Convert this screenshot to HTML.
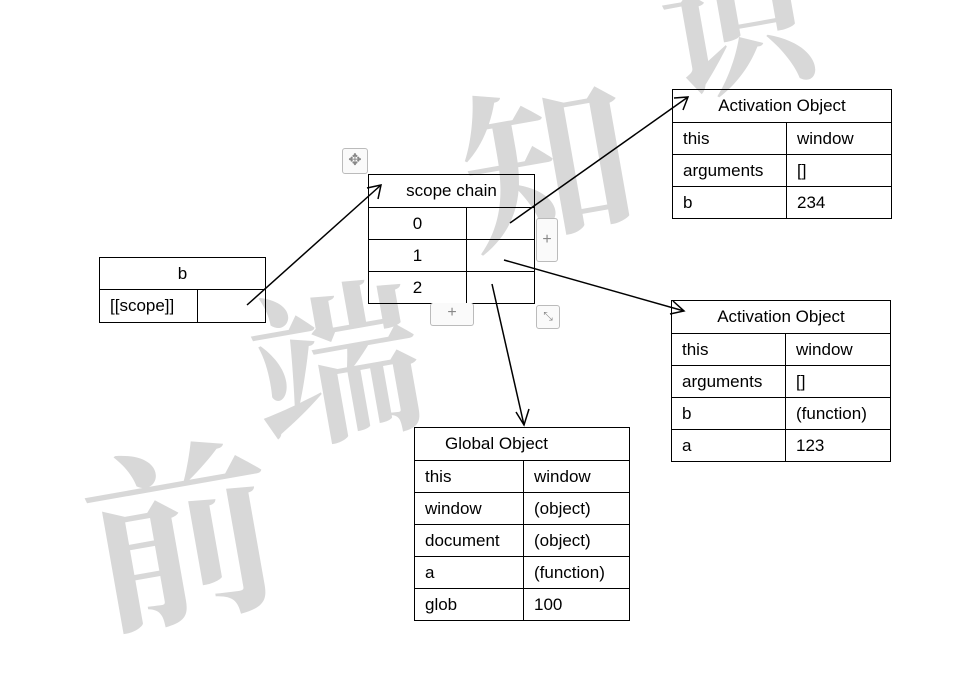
<!DOCTYPE html>
<html><head><meta charset="utf-8"><style>
body{margin:0;width:980px;height:652px;background:#fff;position:relative;overflow:hidden;font-family:"Liberation Sans",sans-serif;font-size:17px;color:#000}
.wm{position:absolute;color:#d8d8d8;font-family:"Noto Serif CJK SC","WenQuanYi Zen Hei",serif;font-weight:700;line-height:1}
.t{position:absolute;border-collapse:collapse;background:transparent}
.t td{border:1px solid #000;padding:0 0 0 10px;height:31px;box-sizing:border-box;white-space:nowrap}
.t td.h{text-align:center;padding:0}
.c td{text-align:center;padding:0}
.btn{position:absolute;border:1px solid #bbb;border-radius:3px;background:#fafafa;color:#888;text-align:center;font-size:16px;line-height:20px}
</style></head><body>
<div class="wm" style="left:85px;top:430px;font-size:190px;transform:rotate(-10deg)">前</div>
<div class="wm" style="left:250px;top:270px;font-size:170px;transform:rotate(-10deg)">端</div>
<div class="wm" style="left:460px;top:70px;font-size:170px;transform:rotate(-10deg)">知</div>
<div class="wm" style="left:660px;top:-60px;font-size:150px;transform:rotate(-10deg)">识</div>

<table class="t" style="left:99px;top:257px;width:167px">
<tr><td colspan="2" class="h" style="height:32px">b</td></tr>
<tr><td style="width:98px;height:33px">[[scope]]</td><td></td></tr></table>

<table class="t c" style="left:368px;top:174px;width:167px">
<tr><td colspan="2" style="height:33px">scope chain</td></tr>
<tr><td style="width:98px;height:32px">0</td><td></td></tr>
<tr><td style="height:32px">1</td><td></td></tr>
<tr><td style="height:32px">2</td><td></td></tr></table>

<table class="t" style="left:672px;top:89px;width:220px">
<tr><td colspan="2" class="h" style="height:33px">Activation Object</td></tr>
<tr><td style="width:114px;height:32px">this</td><td>window</td></tr>
<tr><td style="height:32px">arguments</td><td>[]</td></tr>
<tr><td style="height:32px">b</td><td>234</td></tr></table>

<table class="t" style="left:671px;top:300px;width:220px">
<tr><td colspan="2" class="h" style="height:33px">Activation Object</td></tr>
<tr><td style="width:114px;height:32px">this</td><td>window</td></tr>
<tr><td style="height:32px">arguments</td><td>[]</td></tr>
<tr><td style="height:32px">b</td><td>(function)</td></tr>
<tr><td style="height:32px">a</td><td>123</td></tr></table>

<table class="t" style="left:414px;top:427px;width:216px">
<tr><td colspan="2" style="height:33px;padding-left:30px">Global Object</td></tr>
<tr><td style="width:109px;height:32px">this</td><td>window</td></tr>
<tr><td style="height:32px">window</td><td>(object)</td></tr>
<tr><td style="height:32px">document</td><td>(object)</td></tr>
<tr><td style="height:32px">a</td><td>(function)</td></tr>
<tr><td style="height:32px">glob</td><td>100</td></tr></table>

<div class="btn" style="left:342px;top:148px;width:24px;height:24px;line-height:24px">✥</div>
<div class="btn" style="left:536px;top:218px;width:20px;height:42px;line-height:42px">+</div>
<div class="btn" style="left:430px;top:303px;width:42px;height:22px;border-top:none">+</div>
<div class="btn" style="left:536px;top:305px;width:22px;height:22px;font-size:12px">⤡</div>

<svg width="980" height="652" style="position:absolute;left:0;top:0" fill="none" stroke="#000" stroke-width="1.5">
<line x1="247" y1="305" x2="381" y2="185"/><polyline points="367,188 381,185 378,199"/>
<line x1="510" y1="223" x2="688" y2="97"/><polyline points="674,98 688,97 683,110"/>
<line x1="504" y1="260" x2="684" y2="311"/><polyline points="673,301 684,311 670,314"/>
<line x1="492" y1="284" x2="524" y2="425"/><polyline points="516,412 524,425 529,409"/>
</svg>
</body></html>
